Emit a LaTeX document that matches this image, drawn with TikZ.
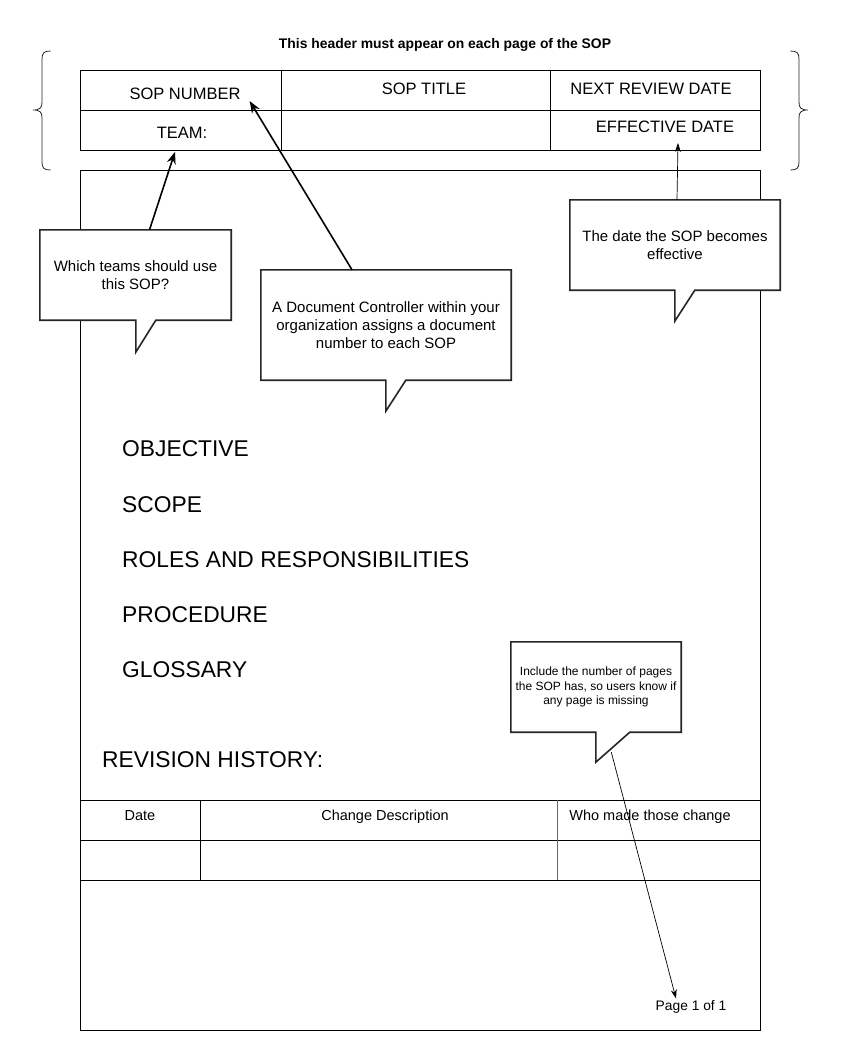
\documentclass[tikz,border=0pt]{standalone}
\usepackage{fontspec}
\setmainfont{Liberation Sans}
\usetikzlibrary{arrows.meta,calc}
\pgfdeclarelayer{bg}
\pgfsetlayers{bg,main}
\begin{document}
\begin{tikzpicture}[x=1pt,y=-1pt,
  grid/.style={draw=black,line width=0.8pt},
  cbox/.style={draw=black!85,line width=1.6pt,fill=white,line join=miter},
  ctext/.style={align=center,font=\fontsize{15}{18}\selectfont,inner sep=0pt},
  ctextsmall/.style={align=center,font=\fontsize{12}{14.5}\selectfont,inner sep=0pt},
  cell/.style={font=\fontsize{16.5}{19}\selectfont,inner sep=0pt},
  heading/.style={anchor=west,font=\fontsize{22.8}{26}\selectfont,inner sep=0pt},
  tcell/.style={anchor=base,font=\fontsize{14.5}{17}\selectfont,inner sep=0pt},
  bigarrow/.style={line width=1.6pt,-{Stealth[length=12pt,width=9pt]}},
  smallarrow/.style={line width=0.7pt,-{Stealth[length=9pt,width=6pt]}},
  brace/.style={draw=black!85,line width=0.8pt}
]
\useasboundingbox (0,0) rectangle (841,1061);

\begin{pgfonlayer}{bg}
\fill[white] (0,0) rectangle (841,1061);
% header table
\draw[grid] (80,70) rectangle (760,150);
\draw[grid] (80,110) -- (760,110);
\draw[grid] (281,70) -- (281,150);
\draw[grid] (550,70) -- (550,150);
% page
\draw[grid] (80,170) rectangle (760,1030);
% revision table
\draw[grid] (80,800) -- (760,800);
\draw[grid] (80,840) -- (760,840);
\draw[grid] (80,880) -- (760,880);
\draw[grid] (200,800) -- (200,880);
\draw[grid,draw=black!60] (557,800) -- (557,880);
\end{pgfonlayer}

% title
\node[font=\bfseries\fontsize{13.9}{16}\selectfont,inner sep=0pt] (title) at (445,45) {This header must appear on each page of the SOP};

% braces
\draw[brace] (50.5,51) .. controls (44,51) and (42,53) .. (42,59) -- (42,102) .. controls (42,108) and (40,110) .. (33,110) .. controls (40,110) and (42,112) .. (42,118) -- (42,162) .. controls (42,168) and (44,170) .. (50.5,170);
\draw[brace] (790.5,51) .. controls (797,51) and (799,53) .. (799,59) -- (799,102) .. controls (799,108) and (801,110) .. (808,110) .. controls (801,110) and (799,112) .. (799,118) -- (799,162) .. controls (799,168) and (797,170) .. (790.5,170);

% header cells
\node[cell] (sopnum) at (185,94) {SOP NUMBER};
\node[cell] (soptitle) at (424,89) {SOP TITLE};
\node[cell] (review) at (651,89) {NEXT REVIEW DATE};
\node[cell] (team) at (182,133) {TEAM:};
\node[cell] (effective) at (665,127) {EFFECTIVE DATE};

% headings
\node[heading] (objective) at (122,449) {OBJECTIVE};
\node[heading] (scope) at (122,505) {SCOPE};
\node[heading] (roles) at (122,560) {ROLES AND RESPONSIBILITIES};
\node[heading] (procedure) at (122,615) {PROCEDURE};
\node[heading] (glossary) at (122,670) {GLOSSARY};
\node[heading] (revision) at (102,760) {REVISION HISTORY:};

% revision table cells
\node[tcell] (date) at (140,820) {Date};
\node[tcell] (change) at (385,820) {Change Description};
\node[tcell] (who) at (650,820) {Who made those change};
\node[tcell,font=\fontsize{13.8}{16}\selectfont] (page) at (691,1010.5) {Page 1 of 1};

% callouts
\node[ctext,minimum width=191pt,minimum height=90pt] (c1) at (135.5,275) {Which teams should use\\this SOP?};
\node[ctext,minimum width=250pt,minimum height=110pt] (c2) at (386,325) {A Document Controller within your\\organization assigns a document\\number to each SOP};
\node[ctext,minimum width=210pt,minimum height=90pt] (c3) at (675,245) {The date the SOP becomes\\effective};
\node[ctextsmall,minimum width=170pt,minimum height=90pt] (c4) at (596,687) {Include the number of pages\\the SOP has, so users know if\\any page is missing};

\begin{pgfonlayer}{bg}
\draw[cbox] (c1.north west) -- (c1.north east) -- (c1.south east) -- ($(c1.south west)+(116,0)$) -- ($(c1.south west)+(96,32)$) -- ($(c1.south west)+(96,0)$) -- (c1.south west) -- cycle;
\draw[cbox] (c2.north west) -- (c2.north east) -- (c2.south east) -- ($(c2.south west)+(145,0)$) -- ($(c2.south west)+(125,31)$) -- ($(c2.south west)+(125,0)$) -- (c2.south west) -- cycle;
\draw[cbox] (c3.north west) -- (c3.north east) -- (c3.south east) -- ($(c3.south west)+(125,0)$) -- ($(c3.south west)+(105,31)$) -- ($(c3.south west)+(105,0)$) -- (c3.south west) -- cycle;
\draw[cbox] (c4.north west) -- (c4.north east) -- (c4.south east) -- ($(c4.south west)+(119,0)$) -- ($(c4.south west)+(85,30)$) -- ($(c4.south west)+(85,0)$) -- (c4.south west) -- cycle;
\end{pgfonlayer}

% arrow ends
\coordinate (teamtip) at ($(team.south)+(-7,13)$);
\coordinate (soptip) at ($(sopnum.south east)+(9,1)$);
\coordinate (efftip) at ($(effective.south)+(13,10)$);
\coordinate (pagetip) at ($(page.base west)+(20.5,-12)$);
\coordinate (c4tail) at ($(c4.south west)+(100.5,20)$);

\draw[bigarrow] ([xshift=14pt]c1.north) -- (teamtip);
\draw[bigarrow] ([xshift=-34pt]c2.north) -- (soptip);
\draw[smallarrow] ([xshift=2pt]c3.north) -- (efftip);
\draw[smallarrow] (c4tail) -- (pagetip);
\end{tikzpicture}
\end{document}
